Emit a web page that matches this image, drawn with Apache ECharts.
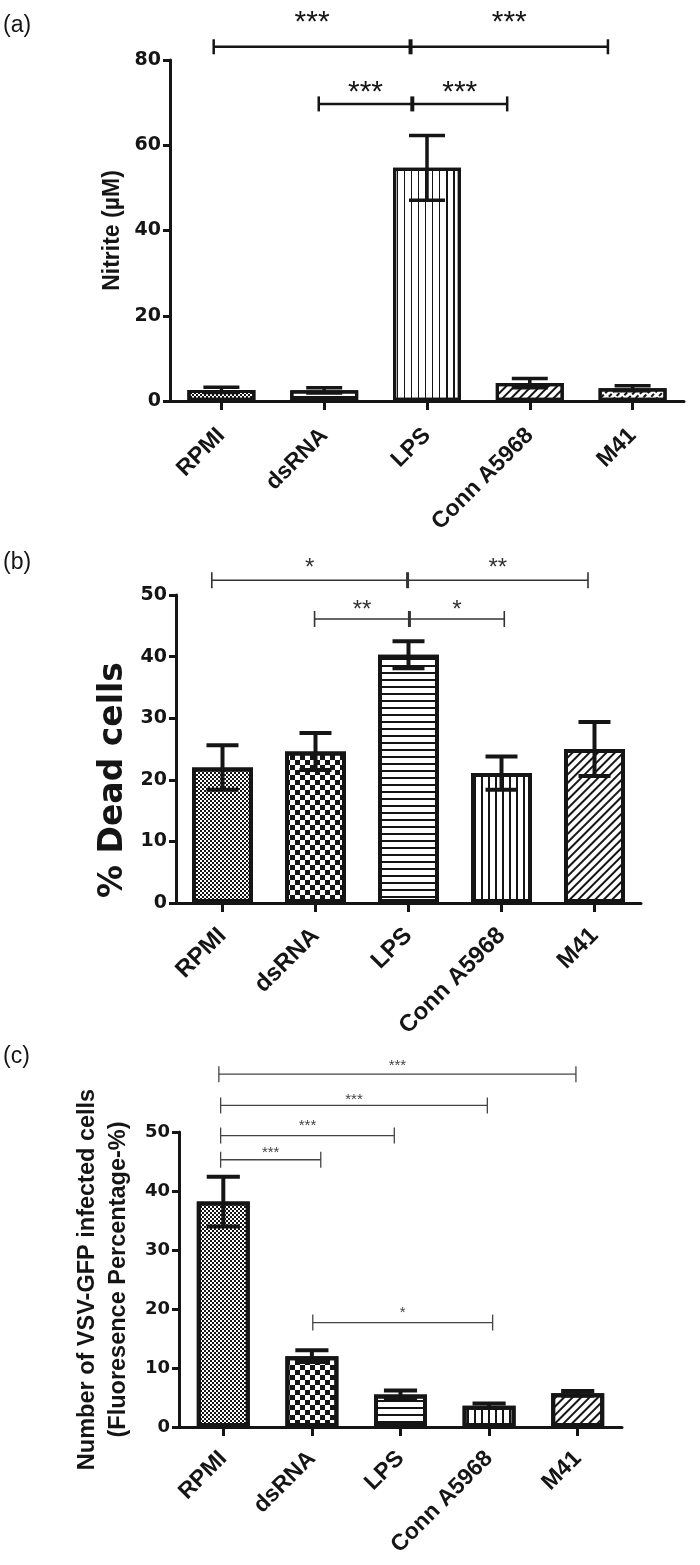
<!DOCTYPE html>
<html><head><meta charset="utf-8">
<script src="https://cdn.jsdelivr.net/npm/echarts@6/dist/echarts.min.js"></script>
<style>html,body{margin:0;padding:0;background:#fff}#c{width:700px;height:1565px}</style>
</head><body><div id="c"></div>
<script>
// ---------- DATA ----------
const categories = ['RPMI', 'dsRNA', 'LPS', 'Conn A5968', 'M41'];

// (a) Nitrite (µM)
const nitriteMean = [2.6, 2.5, 54.7, 4.2, 3.0];
const nitriteErr  = [0.6, 0.6, 7.6, 1.1, 0.6];
const nitriteTicks = [0, 20, 40, 60, 80];

// (b) % Dead cells
const deadMean = [22.0, 24.6, 40.3, 21.1, 25.0];
const deadErr  = [3.6, 3.0, 2.2, 2.7, 4.4];
const deadTicks = [0, 10, 20, 30, 40, 50];

// (c) VSV-GFP infected cells (%)
const vsvMean = [38.2, 12.0, 5.5, 3.6, 5.7];
const vsvErr  = [4.2, 1.0, 0.7, 0.4, 0.4];
const vsvTicks = [0, 10, 20, 30, 40, 50];

// significance brackets: category positions (index units), bracket value, star value, star text
const sigA = [
  { pos: [-0.075, 1.84, 3.76], y: 83.1, labelY: 90.4, stars: ['***', '***'] },
  { pos: [0.947, 1.857, 2.78], y: 69.7, labelY: 74.0, stars: ['***', '***'] }
];
const sigB = [
  { pos: [-0.115, 1.99, 3.93], y: 52.4, labelY: 55.2, stars: ['*', '**'] },
  { pos: [0.99, 2.01, 3.03], y: 46.1, labelY: 48.4, stars: ['**', '*'] }
];
const sigC = [
  { pos: [-0.05, 3.98], y: 59.8, labelY: 61.8, stars: ['***'] },
  { pos: [-0.03, 2.98], y: 54.5, labelY: 56.1, stars: ['***'] },
  { pos: [-0.03, 1.93], y: 49.4, labelY: 51.6, stars: ['***'] },
  { pos: [-0.03, 1.10], y: 45.3, labelY: 47.0, stars: ['***'] },
  { pos: [1.01, 3.04], y: 17.7, labelY: 20.0, stars: ['*'] }
];

// ---------- STYLES ----------
const INK = '#151515';
const dec = {
  fine:   { symbol: 'rect', symbolSize: 1, dashArrayX: [[2, 2], [0, 2, 2, 0]], dashArrayY: [2, 0], color: INK },
  check:  { symbol: 'rect', symbolSize: 1, dashArrayX: [[5, 5], [0, 5, 5, 0]], dashArrayY: [5, 0], color: INK },
  hline:  { symbol: 'rect', symbolSize: 1, dashArrayX: [1, 0], dashArrayY: [1.3, 5], color: INK },
  hlineW: { symbol: 'rect', symbolSize: 1, dashArrayX: [1, 0], dashArrayY: [1.3, 4], color: INK },
  vline:  { symbol: 'rect', symbolSize: 1, dashArrayX: [1, 0], dashArrayY: [1.3, 5], rotation: Math.PI / 2, color: INK },
  diag:   { symbol: 'rect', symbolSize: 1, dashArrayX: [1, 0], dashArrayY: [1.3, 4], rotation: -Math.PI / 4, color: INK },
  ddiag:  { symbol: 'rect', symbolSize: 1, dashArrayX: [4, 2], dashArrayY: [1.5, 3], rotation: -Math.PI / 4, color: INK }
};
const patternsA = [dec.fine, dec.hlineW, dec.vline, dec.diag, dec.ddiag];
const patternsBC = [dec.fine, dec.check, dec.hline, dec.vline, dec.diag];

const panelCfg = [
  { grid: { left: 170, top: 60, width: 514, height: 341 }, barW: 68, border: 3.2, errLw: 3.5, cap: 0.175,
    tickFs: 19, catFs: 23, catMargin: 31, name: 'Nitrite (\u00b5M)', nameGap: 34,
    nameStyle: { fontFamily: 'Liberation Sans', fontWeight: 'bold', fontSize: 23, color: INK },
    sig: { color: INK, lw: 2.5, midLw: 4, tick: 7.5, fs: 30 } },
  { grid: { left: 176, top: 595, width: 465, height: 308 }, barW: 61, border: 4, errLw: 4, cap: 0.172,
    tickFs: 19, catFs: 24, catMargin: 29, name: '% Dead cells', nameGap: 40,
    nameStyle: { fontFamily: 'DejaVu Sans', fontWeight: 'bold', fontSize: 33, color: INK, padding: [0, 62, 0, 0] },
    sig: { color: '#333', lw: 1.6, midLw: 3, tick: 8, fs: 24 } },
  { grid: { left: 179, top: 1132, width: 443, height: 295 }, barW: 53, border: 4, errLw: 4, cap: 0.187,
    tickFs: 18, catFs: 23, catMargin: 28, name: 'Number of VSV-GFP infected cells\n(Fluoresence Percentage-%)', nameGap: 44,
    nameStyle: { fontFamily: 'Liberation Sans', fontWeight: 'bold', fontSize: 23.5, lineHeight: 31, color: INK },
    sig: { color: '#444', lw: 1.3, midLw: 1.3, tick: 8, fs: 15 } }
];
const panelTicks = [nitriteTicks, deadTicks, vsvTicks];
const panelMeans = [nitriteMean, deadMean, vsvMean];
const panelErrs = [nitriteErr, deadErr, vsvErr];
const panelSig = [sigA, sigB, sigC];
const panelPatterns = [patternsA, patternsBC, patternsBC];
const panelLetters = ['(a)', '(b)', '(c)'];
const letterTop = [14, 551, 1045];

// ---------- BUILDERS ----------
function barSeries(i) {
  const c = panelCfg[i];
  return {
    type: 'bar', xAxisIndex: i, yAxisIndex: i, barWidth: c.barW, z: 2, silent: true,
    data: panelMeans[i].map((m, k) => ({
      value: m,
      itemStyle: { color: '#fff', borderColor: INK, borderWidth: c.border, decal: panelPatterns[i][k] }
    }))
  };
}
function errSeries(i) {
  const c = panelCfg[i];
  const means = panelMeans[i], errs = panelErrs[i];
  return {
    type: 'custom', xAxisIndex: i, yAxisIndex: i, z: 4, silent: true,
    data: means.map((m, k) => [k, m + errs[k], m - errs[k]]),
    encode: { x: 0, y: [1, 2] },
    renderItem(params, api) {
      const k = api.value(0);
      const hi = api.coord([k, api.value(1)]);
      const lo = api.coord([k, api.value(2)]);
      const half = api.size([1, 0])[0] * c.cap;
      const st = { stroke: INK, lineWidth: c.errLw };
      return { type: 'group', children: [
        { type: 'line', shape: { x1: hi[0], y1: hi[1], x2: lo[0], y2: lo[1] }, style: st },
        { type: 'line', shape: { x1: hi[0] - half, y1: hi[1], x2: hi[0] + half, y2: hi[1] }, style: st },
        { type: 'line', shape: { x1: lo[0] - half, y1: lo[1], x2: lo[0] + half, y2: lo[1] }, style: st }
      ] };
    }
  };
}
function sigSeries(i) {
  const s = panelCfg[i].sig;
  const sig = panelSig[i];
  return {
    type: 'custom', xAxisIndex: i, yAxisIndex: i, z: 5, silent: true, clip: false,
    data: sig.map(() => [0, 0]),
    encode: { x: 0, y: 1 },
    renderItem(params, api) {
      const b = sig[params.dataIndex];
      const o = api.coord([0, b.y]);
      const band = api.size([1, 0])[0];
      const xs = b.pos.map(p => o[0] + p * band);
      const y = o[1];
      const ly = api.coord([0, b.labelY])[1];
      const ch = [];
      ch.push({ type: 'line', shape: { x1: xs[0], y1: y, x2: xs[xs.length - 1], y2: y }, style: { stroke: s.color, lineWidth: s.lw } });
      xs.forEach((x, k) => {
        const mid = k > 0 && k < xs.length - 1;
        ch.push({ type: 'line', shape: { x1: x, y1: y - s.tick, x2: x, y2: y + s.tick }, style: { stroke: s.color, lineWidth: mid ? s.midLw : s.lw } });
      });
      for (let k = 0; k < xs.length - 1; k++) {
        ch.push({ type: 'text', style: {
          text: b.stars[k], x: (xs[k] + xs[k + 1]) / 2, y: ly + s.fs * 0.23,
          align: 'center', verticalAlign: 'middle', textAlign: 'center', textVerticalAlign: 'middle',
          font: s.fs + 'px "Liberation Sans", Arial, sans-serif', fill: s.color } });
      }
      return { type: 'group', children: ch };
    }
  };
}

const grids = [], xAxes = [], yAxes = [], series = [], titles = [];
for (let i = 0; i < 3; i++) {
  const c = panelCfg[i];
  const t = panelTicks[i];
  grids.push(Object.assign({ containLabel: false, outerBoundsMode: 'none' }, c.grid));
  xAxes.push({
    type: 'category', gridIndex: i, data: categories,
    axisLine: { show: true, lineStyle: { color: INK, width: 3 } },
    axisTick: { show: true, alignWithLabel: true, length: 9, lineStyle: { color: INK, width: 3 } },
    axisLabel: { interval: 0, rotate: 45, margin: c.catMargin, fontFamily: 'Liberation Sans', fontWeight: 'bold', fontSize: c.catFs, color: INK },
    splitLine: { show: false }
  });
  yAxes.push({
    type: 'value', gridIndex: i, min: t[0], max: t[t.length - 1], interval: t[1] - t[0],
    name: c.name, nameLocation: 'middle', nameGap: c.nameGap, nameTextStyle: c.nameStyle,
    axisLine: { show: true, lineStyle: { color: INK, width: 3 } },
    axisTick: { show: true, length: 7, lineStyle: { color: INK, width: 3 } },
    axisLabel: { margin: 9, fontFamily: 'DejaVu Sans', fontWeight: 'bold', fontSize: c.tickFs, color: INK },
    splitLine: { show: false }
  });
  series.push(barSeries(i), errSeries(i), sigSeries(i));
  titles.push({ text: panelLetters[i], left: 3, top: letterTop[i], padding: 0,
    textStyle: { fontFamily: 'Liberation Sans', fontWeight: 'normal', fontSize: 23, color: INK } });
}

const chart = echarts.init(document.getElementById('c'), null, { renderer: 'canvas' });
chart.setOption({
  animation: false,
  backgroundColor: '#fff',
  aria: { enabled: true, decal: { show: true } },
  title: titles,
  grid: grids,
  xAxis: xAxes,
  yAxis: yAxes,
  series: series
});
</script>
</body></html>
